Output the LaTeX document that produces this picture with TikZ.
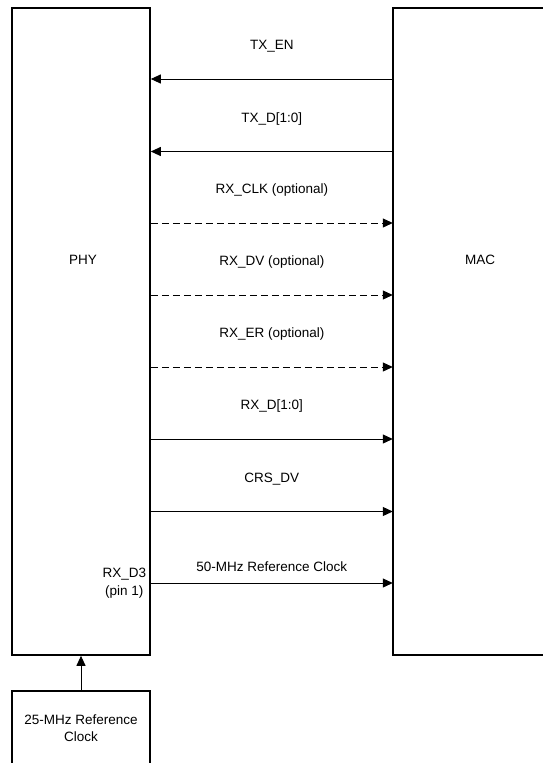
\documentclass[tikz,border=0pt]{standalone}
\usepackage{fontspec}
\setmainfont{Liberation Sans}
\usepackage{tikz}
\usetikzlibrary{arrows.meta}

\begin{document}
\begin{tikzpicture}[x=1pt, y=-1pt,
        every node/.style={font=\fontsize{13.5pt}{17.5pt}\selectfont},
        blk/.style={draw, line width=1.6pt, rectangle, inner sep=0pt},
        sig/.style={line width=1pt, -{Triangle[length=10pt, width=9pt]}},
        opt/.style={sig, dash pattern=on 7pt off 4pt},
        lbl/.style={anchor=base, yshift=29.5pt}]
        \useasboundingbox (0,0) rectangle (543,763);
        \clip (0,0) rectangle (543,763);

        \node[blk, minimum width=138pt, minimum height=647pt] (phy) at (81, 331.5) {};
        \node[inner sep=0pt, minimum width=174pt, minimum height=647pt] (mac) at (480, 331.5) {};
        \draw[line width=1.6pt] (mac.north east) -- (mac.north west) -- (mac.south west) -- (mac.south east);
        \node[blk, minimum width=138pt, minimum height=74pt, align=center] (clk) at (81, 728) {25-MHz Reference\\Clock};
        \node (phylbl) at (83, 260) {PHY};
        \node (maclbl) at (480, 260) {MAC};

        \coordinate (r1) at (0, 79);
        \coordinate (r2) at (0, 151.5);
        \coordinate (r3) at (0, 223);
        \coordinate (r4) at (0, 295);
        \coordinate (r5) at (0, 367);
        \coordinate (r6) at (0, 439);
        \coordinate (r7) at (0, 511.5);
        \coordinate (r8) at (0, 583);

        \draw[sig] (mac.west |- r1) -- node[lbl]{TX\_EN} (phy.east |- r1);
        \draw[sig] (mac.west |- r2) -- node[lbl]{TX\_D[1:0]} (phy.east |- r2);
        \draw[opt] (phy.east |- r3) -- node[lbl]{RX\_CLK (optional)} (mac.west |- r3);
        \draw[opt] (phy.east |- r4) -- node[lbl]{RX\_DV (optional)} (mac.west |- r4);
        \draw[opt] (phy.east |- r5) -- node[lbl]{RX\_ER (optional)} (mac.west |- r5);
        \draw[sig] (phy.east |- r6) -- node[lbl]{RX\_D[1:0]} (mac.west |- r6);
        \draw[sig] (phy.east |- r7) -- node[lbl]{CRS\_DV} (mac.west |- r7);
        \draw[sig] (phy.east |- r8) -- node[lbl, yshift=-17.5pt]{50-MHz Reference Clock} (mac.west |- r8);
        \node[anchor=east, inner sep=0pt, xshift=-4.5pt, align=center] (pin) at (phy.east |- r8) {RX\_D3\\(pin 1)};

        \draw[sig] (clk) -- (phy);
    \end{tikzpicture}
\end{document}
